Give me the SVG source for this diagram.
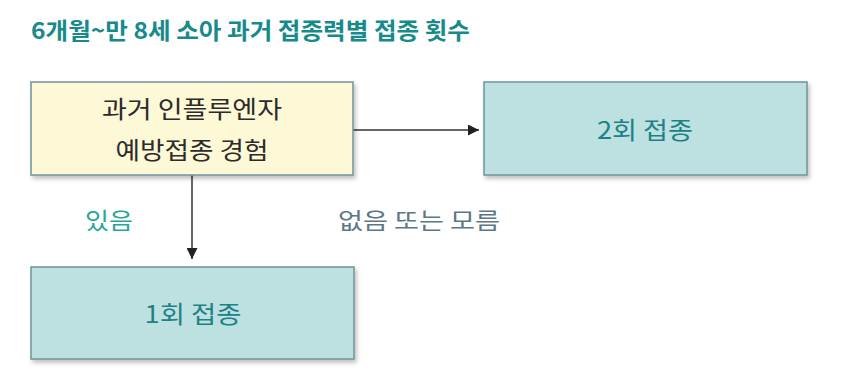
<svg xmlns="http://www.w3.org/2000/svg" width="864" height="375" viewBox="0 0 864 375">
<defs>
<filter id="sh" x="-5%" y="-10%" width="112%" height="125%">
<feDropShadow dx="2" dy="3" stdDeviation="2" flood-color="#000" flood-opacity="0.25"/>
</filter>
<marker id="ah" viewBox="0 0 10 10" refX="10" refY="5" markerWidth="11" markerHeight="11" markerUnits="userSpaceOnUse" orient="auto">
<path d="M0,0 L10,5 L0,10 z" fill="#222"/>
</marker>
</defs>
<style>
text{font-family:"Noto Sans CJK KR","Noto Sans",sans-serif;}
.box{stroke:#6f9499;stroke-width:1.5;filter:url(#sh);}
.yel{fill:#fdf8d5;}
.teal{fill:#bde0e0;}
.t{font-size:24px;font-weight:400;text-anchor:middle;}
.dark{fill:#2b2b2b;}
.tc{fill:#1c8288;}
.lnk{stroke:#333;stroke-width:1.5;fill:none;}
.lbl{font-size:23px;font-weight:400;}
</style>
<rect width="864" height="375" fill="#fff"/>
<text x="31" y="39" font-size="23" font-weight="bold" fill="#178a8c" textLength="439" lengthAdjust="spacingAndGlyphs">6개월~만 8세 소아 과거 접종력별 접종 횟수</text>
<g id="connectors">
<line class="lnk" x1="353" y1="130" x2="479" y2="130" marker-end="url(#ah)"/>
<line class="lnk" x1="192" y1="175" x2="192" y2="259" marker-end="url(#ah)"/>
<text class="lbl" x="85" y="229" fill="#2aa59a" textLength="48" lengthAdjust="spacingAndGlyphs">있음</text>
<text class="lbl" x="338" y="229" fill="#5b7886" textLength="162" lengthAdjust="spacingAndGlyphs">없음 또는 모름</text>
</g>
<g id="node-past">
<rect class="box yel" x="31" y="82" width="322" height="93"/>
<text class="t dark" x="192" y="118" textLength="180" lengthAdjust="spacingAndGlyphs">과거 인플루엔자</text>
<text class="t dark" x="192" y="159" textLength="153" lengthAdjust="spacingAndGlyphs">예방접종 경험</text>
</g>
<g id="node-two">
<rect class="box teal" x="484" y="82" width="323" height="93"/>
<text class="t tc" x="645" y="139" textLength="96" lengthAdjust="spacingAndGlyphs">2회 접종</text>
</g>
<g id="node-one">
<rect class="box teal" x="31" y="267" width="323" height="92"/>
<text class="t tc" x="193" y="323" textLength="97" lengthAdjust="spacingAndGlyphs">1회 접종</text>
</g>
</svg>
